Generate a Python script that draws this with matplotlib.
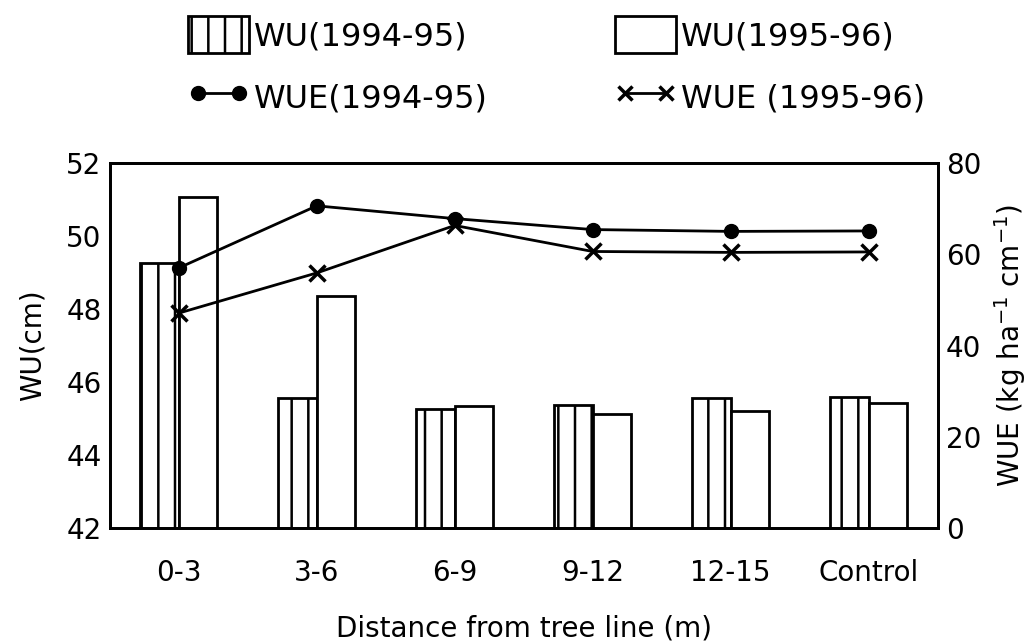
import numpy as np
import matplotlib
matplotlib.use("Agg")
import matplotlib.pyplot as plt
from matplotlib.patches import Patch
from matplotlib.lines import Line2D

# distance classes
categories = ["0-3", "3-6", "6-9", "9-12", "12-15", "Control"]

# water use, cm (left axis)
wu_9495 = [49.25, 45.55, 45.25, 45.38, 45.56, 45.58]
wu_9596 = [51.08, 48.35, 45.34, 45.13, 45.22, 45.42]

# water use efficiency, kg ha-1 cm-1 (right axis)
wue_9495 = [57.0, 70.6, 67.8, 65.4, 65.0, 65.1]
wue_9596 = [47.1, 55.9, 66.3, 60.6, 60.4, 60.5]

plt.rcParams["font.family"] = ["DejaVu Sans"]
plt.rcParams["hatch.linewidth"] = 1.8

fig = plt.figure(figsize=(10.36, 6.44), dpi=100)
ax = fig.add_axes([0.106, 0.18, 0.799, 0.567])

x = np.arange(len(categories))
w = 0.28
ax.bar(x - w / 2, wu_9495, w, color="white", edgecolor="black",
       linewidth=2, hatch="|")
ax.bar(x + w / 2, wu_9596, w, color="white", edgecolor="black", linewidth=2)
ax.set_ylim(42, 52)
ax.set_yticks(np.arange(42, 53, 2))
ax.set_xlim(-0.5, len(categories) - 0.5)
ax.set_xticks(x)
ax.set_xticklabels(categories)

ax2 = ax.twinx()
ax2.plot(x, wue_9495, color="black", lw=2, marker="o", ms=10)
ax2.plot(x, wue_9596, color="black", lw=2, marker="x", ms=11, mew=2.5)
ax2.set_ylim(0, 80)
ax2.set_yticks(np.arange(0, 81, 20))

for a in (ax, ax2):
    for sp in a.spines.values():
        sp.set_linewidth(2)
    a.tick_params(length=0, labelsize=20, pad=6)
ax.tick_params(axis="x", pad=22)

ax.set_ylabel("WU(cm)", fontsize=20, labelpad=14)
ax2.set_ylabel(r"WUE (kg ha$^{-1}$ cm$^{-1}$)", fontsize=20, labelpad=8)
ax.set_xlabel("Distance from tree line (m)", fontsize=20, labelpad=20)

handles = [
    Patch(facecolor="white", edgecolor="black", hatch="|", linewidth=2,
          label="WU(1994-95)"),
    Line2D([], [], color="black", lw=2, marker="o", ms=10,
           label="WUE(1994-95)"),
    Patch(facecolor="white", edgecolor="black", linewidth=2,
          label="WU(1995-96)"),
    Line2D([], [], color="black", lw=2, marker="x", ms=10, mew=2.5,
           label="WUE (1995-96)"),
]
fig.legend(handles=handles, ncol=2, loc="upper left",
           bbox_to_anchor=(188 / 1036, 0.975), borderaxespad=0, borderpad=0,
           frameon=False, fontsize=23, numpoints=2, handlelength=1.9,
           handleheight=1.4, handletextpad=0.15, columnspacing=4.0,
           labelspacing=0.8)

fig.savefig("out.png", dpi=100, facecolor="white")
